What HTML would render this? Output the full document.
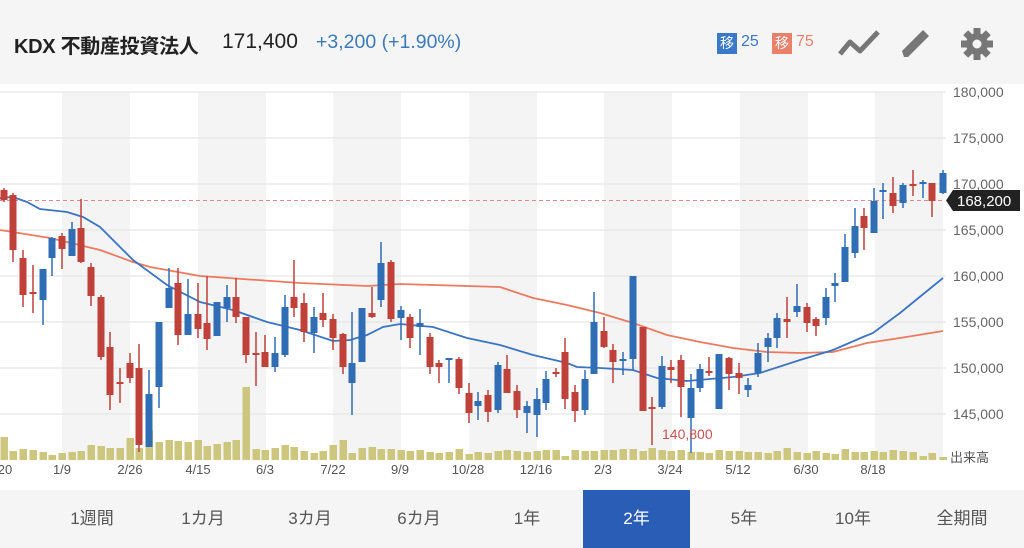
<!DOCTYPE html>
<html><head><meta charset="utf-8"><style>
body{margin:0;width:1024px;height:548px;overflow:hidden;background:#fff;font-family:"Liberation Sans","Noto Sans CJK JP",sans-serif}
#hd{position:absolute;left:0;top:0;width:1024px;height:84px;background:#f5f5f5}
#ft{position:absolute;left:0;top:490px;width:1024px;height:58px;background:#f5f5f5}
.t{position:absolute;top:0;height:58px;line-height:58px;font-size:17px;color:#555;text-align:center}
</style></head><body>
<div id="hd">
<div style="position:absolute;left:14px;top:30px;font-size:20px;font-weight:bold;color:#222;letter-spacing:-0.3px">KDX 不動産投資法人</div>
<div style="position:absolute;left:222px;top:30px;font-size:21px;color:#222">171,400</div>
<div style="position:absolute;left:316px;top:31px;font-size:19.5px;color:#3d7ab8">+3,200 (+1.90%)</div>
<div style="position:absolute;left:717px;top:33px;width:20px;height:21px;background:#3a78c9;color:#fff;font-size:14px;text-align:center;line-height:21px">移</div>
<div style="position:absolute;left:741px;top:33px;font-size:16px;color:#3a78c9">25</div>
<div style="position:absolute;left:772px;top:33px;width:20px;height:21px;background:#e9806a;color:#fff;font-size:14px;text-align:center;line-height:21px">移</div>
<div style="position:absolute;left:796px;top:33px;font-size:16px;color:#e9806a">75</div>
<svg style="position:absolute;left:830px;top:24px" width="180" height="40">
<polyline points="10,30 20,18 30,27 48,8" fill="none" stroke="#777" stroke-width="5" stroke-linejoin="round"/>
<path d="M74,33 L72,27 L93,6 L99,12 L78,33 Z" fill="#777"/>
<g transform="translate(147,20)" fill="#777"><circle r="11"/><g><rect x="-3.5" y="-16" width="7" height="32"/><rect x="-16" y="-3.5" width="32" height="7"/></g><g transform="rotate(45)"><rect x="-3.5" y="-16" width="7" height="32"/><rect x="-16" y="-3.5" width="32" height="7"/></g><circle r="4.5" fill="#f5f5f5"/></g>
</svg>
</div>
<svg id="ch" style="position:absolute;left:0;top:84px" width="1024" height="406"></svg>
<div id="ft">
<div class="t" style="left:42px;width:100px">1週間</div>
<div class="t" style="left:153px;width:100px">1カ月</div>
<div class="t" style="left:260px;width:100px">3カ月</div>
<div class="t" style="left:369px;width:100px">6カ月</div>
<div class="t" style="left:477px;width:100px">1年</div>
<div class="t" style="left:583px;width:107px;background:#2a5db5;color:#fff">2年</div>
<div class="t" style="left:694px;width:100px">5年</div>
<div class="t" style="left:803px;width:100px">10年</div>
<div class="t" style="left:912px;width:100px">全期間</div>
</div>
<script>
var s='',O=-84;
function Y(y){return y+O}
[62,198,333,469,604,740,875].forEach(function(x){s+='<rect x="'+x+'" y="'+Y(92)+'" width="68" height="'+(460-92)+'" fill="#f4f4f4"/>'});
var labs=['180,000','175,000','170,000','165,000','160,000','155,000','150,000','145,000'];
for(var i=0;i<8;i++){var y=92+46*i;s+='<line x1="0" x2="946" y1="'+Y(y)+'" y2="'+Y(y)+'" stroke="#e2e2e2"/>';s+='<text x="953" y="'+(Y(y)+5)+'" font-size="14" fill="#666">'+labs[i]+'</text>'}
var vol=[23,9,11,10,8,5,7,8,9,15,14,12,12,22,12,30,18,20,19,18,20,14,16,18,20,73,11,10,12,15,13,9,7,9,15,20,7,12,13,11,11,10,9,10,8,7,8,11,6,8,7,9,10,9,8,9,10,10,4,10,9,9,10,10,11,11,9,12,10,9,10,8,8,7,10,9,9,8,8,7,9,12,8,7,9,7,6,11,8,8,9,8,10,9,8,4,7,3];
var C=[
[4,'r',190,200,188,202],[13,'r',195,250,193,262],[23,'r',258,295,250,307],[33,'r',292,294,265,313],[43,'b',269,300,269,325],[52,'b',238,258,237,276],[62,'r',236,249,233,269],[72,'b',229,256,222,256],[81,'r',228,262,199,263],[91,'r',267,296,263,306],
[101,'r',297,357,295,360],[110,'r',347,395,332,410],[120,'r',382,384,368,403],[130,'r',363,378,353,383],[139,'r',368,445,344,452],[149,'b',394,447,370,447],[159,'b',322,387,322,408],[169,'b',288,308,268,308],[178,'r',283,335,268,345],[188,'b',314,335,279,335],
[198,'r',314,329,283,338],[207,'r',323,339,276,350],[217,'b',302,336,302,336],[227,'b',297,308,285,322],[236,'r',297,317,278,323],[246,'r',317,355,317,363],[256,'r',353,355,332,386],[265,'r',352,367,335,367],[275,'b',353,367,337,372],[285,'b',307,355,295,357],
[294,'r',297,308,260,317],[304,'r',303,332,293,342],[314,'b',317,333,307,353],[323,'r',313,320,293,327],[333,'r',319,338,314,350],[343,'r',334,367,333,374],[352,'b',363,383,312,415],[362,'b',308,362,308,362],[372,'r',313,317,287,318],[381,'b',263,300,242,307],
[391,'r',262,319,260,322],[401,'b',310,318,306,340],[410,'r',317,338,314,348],[420,'b',323,327,309,355],[430,'r',337,367,333,374],[439,'r',363,367,360,383],[449,'b',358,360,358,383],[459,'r',359,388,357,394],[469,'r',393,413,383,423],[478,'b',401,406,392,420],
[488,'r',395,412,390,422],[498,'b',365,410,362,413],[507,'r',369,393,355,393],[517,'r',391,410,385,418],[527,'b',406,413,401,433],[537,'b',399,415,388,437],[546,'b',379,403,371,410],[556,'r',372,374,368,377],[565,'r',352,399,338,409],[575,'r',392,411,385,422],
[585,'b',379,410,370,415],[594,'b',322,374,292,374],[604,'r',331,347,317,348],[613,'r',350,362,344,383],[623,'b',359,361,352,375],[633,'b',276,359,276,370],[643,'r',327,411,327,411],[652,'r',407,409,397,445],[662,'b',366,407,356,409],[671,'r',367,370,360,383],
[681,'r',360,387,355,417],[691,'b',388,418,374,453],[700,'b',369,388,364,392],[709,'r',371,373,357,376],[719,'b',354,409,354,409],[729,'r',358,374,357,390],[739,'r',373,378,363,394],[748,'b',385,390,378,397],[758,'b',353,373,343,377],[768,'b',338,347,333,362],
[777,'b',318,338,313,348],[787,'r',319,322,297,338],[797,'b',306,312,284,317],[807,'r',307,323,303,332],[816,'r',319,326,317,336],[826,'b',297,318,288,325],[835,'b',283,286,273,302],[845,'b',247,282,234,282],[855,'b',226,253,208,258],[864,'r',216,228,208,250],
[874,'b',201,233,188,233],[883,'b',190,192,183,219],[893,'r',193,206,177,213],[903,'b',185,203,183,208],[913,'r',184,186,170,196],[923,'b',182,184,180,198],[932,'r',183,201,183,217],[943,'b',173,193,170,194]];
C.forEach(function(c,i){var h=vol[i]||8;s+='<rect x="'+(c[0]-3.5)+'" y="'+Y(460-h)+'" width="7.5" height="'+h+'" fill="#cdc67e"/>'});
s+='<line x1="0" x2="944" y1="'+Y(200.5)+'" y2="'+Y(200.5)+'" stroke="#e08a85" stroke-dasharray="4,3"/>';
function pl(p,col,w){s+='<polyline fill="none" stroke="'+col+'" stroke-width="'+w+'" points="'+p.map(function(q){return q[0]+','+Y(q[1])}).join(' ')+'"/>'}
pl([[0,230],[50,238],[100,250],[133,262],[150,267],[200,276],[300,283],[367,286],[400,284],[500,287],[533,298],[567,305],[600,313],[633,323],[667,335],[700,342],[733,348],[767,352],[800,353],[833,352],[867,343],[900,338],[943,331]],'#ec7a60',1.8);
pl([[0,198],[13,197],[27,202],[40,209],[67,212],[83,217],[100,227],[133,260],[167,285],[200,302],[233,310],[267,322],[300,330],[333,341],[350,340],[367,335],[383,327],[400,324],[433,327],[467,338],[500,345],[533,355],[567,363],[577,367],[600,368],[633,370],[657,378],[687,381],[733,377],[760,373],[800,360],[833,350],[863,337],[873,333],[900,313],[943,278]],'#3b74c4',1.8);
C.forEach(function(c){var col=c[1]=='r'?'#c0403a':'#2f6db5';s+='<line x1="'+c[0]+'" x2="'+c[0]+'" y1="'+Y(c[4])+'" y2="'+Y(c[5])+'" stroke="'+col+'" stroke-width="1.5"/>';var h=Math.max(2,c[3]-c[2]);s+='<rect x="'+(c[0]-3.5)+'" y="'+Y(c[2])+'" width="7" height="'+h+'" fill="'+col+'"/>'});
s+='<text x="662" y="'+Y(439)+'" font-size="14" fill="#c85450">140,800</text>';
s+='<path d="M946,'+Y(200.5)+' L953,'+Y(190)+' L1020,'+Y(190)+' L1020,'+Y(211)+' L953,'+Y(211)+' Z" fill="#222"/>';
s+='<text x="957" y="'+Y(206)+'" font-size="15" fill="#fff">168,200</text>';
s+='<text x="950" y="'+Y(462)+'" font-size="13" fill="#555">出来高</text>';
var xl=[[5,'20'],[62,'1/9'],[130,'2/26'],[198,'4/15'],[265,'6/3'],[333,'7/22'],[400,'9/9'],[468,'10/28'],[536,'12/16'],[603,'2/3'],[670,'3/24'],[738,'5/12'],[806,'6/30'],[873,'8/18']];
xl.forEach(function(l){s+='<text x="'+l[0]+'" y="'+Y(474)+'" font-size="13" fill="#555" text-anchor="middle">'+l[1]+'</text>'});
document.getElementById('ch').innerHTML=s;
</script>
</body></html>
